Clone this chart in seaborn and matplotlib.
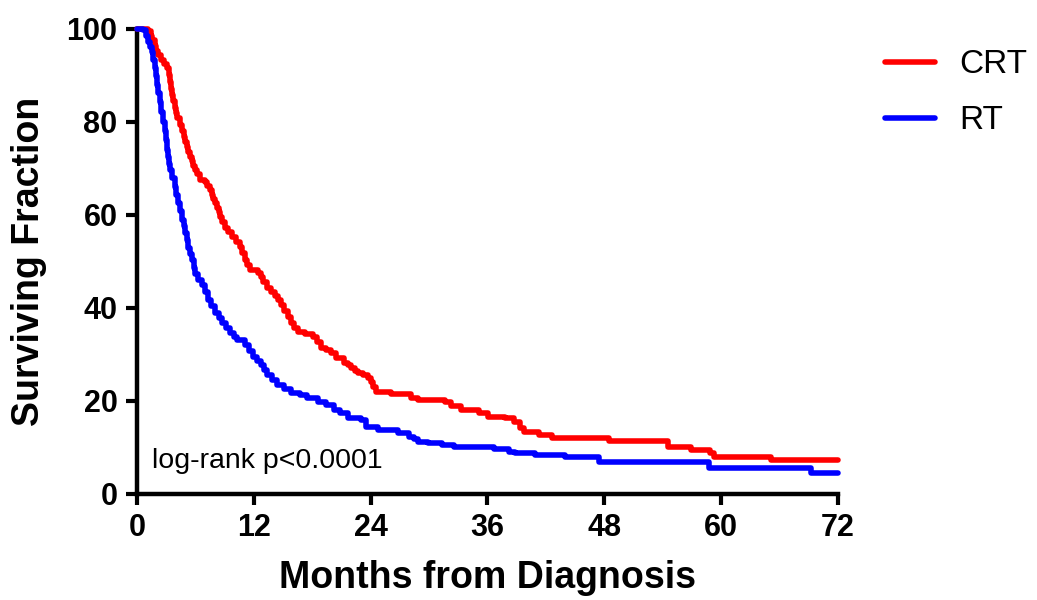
import pandas as pd
import numpy as np
import matplotlib
matplotlib.use("Agg")
import matplotlib.pyplot as plt
import seaborn as sns

# ── Kaplan-Meier step data ───────────────────────────────────────────
crt_months = [0, 1.1, 1.4, 1.6, 1.85, 2.0, 2.2, 2.5, 2.8, 3.1, 3.25, 3.4, 3.5,
              3.6, 3.75, 3.9, 4.0, 4.1, 4.4, 4.6, 4.8, 4.95, 5.15, 5.3, 5.46,
              5.65, 5.8, 5.98, 6.2, 6.5, 7.0, 7.25, 7.5, 7.7, 7.85, 8.0, 8.2,
              8.4, 8.56, 8.75, 9.0, 9.4, 9.8, 10.2, 10.6, 10.8, 11.1, 11.35,
              11.6, 12.4, 12.7, 13.0, 13.4, 13.8, 14.2, 14.5, 14.8, 15.1,
              15.5, 15.8, 16.1, 16.5, 17.3, 18.1, 18.5, 18.9, 19.4, 19.9,
              20.5, 21.3, 21.7, 22.0, 22.4, 22.7, 23.2, 23.7, 24.0, 24.3,
              24.6, 26.1, 28.2, 28.9, 31.6, 32.3, 33.3, 35.1, 36.1, 37.8,
              38.7, 39.3, 39.8, 41.3, 42.6, 48.5, 54.5, 56.9, 58.9, 59.3,
              65.1, 72.0]
crt_surv = [100, 99.5, 98.5, 97.5, 96.2, 95.3, 94.3, 93.3, 92.5, 91.5, 90, 88.5, 87,
            85.8, 84.5, 83, 82, 80.9, 79.4, 78, 76.8, 75.7, 74.5, 73.5, 72.5,
            71.5, 70.6, 69.7, 68.7, 67.5, 67.1, 66.2, 65.4, 64.2, 63.4, 62.6, 61.5,
            60.5, 59.6, 58.5, 57.2, 56.3, 55.3, 54.2, 53.1, 51.8, 50.3, 49.3,
            48.2, 47.5, 46.7, 45.5, 44.3, 43.5, 42.6, 41.6, 40.5, 39.3,
            38.1, 36.8, 35.6, 34.8, 34.3, 33.8, 32.6, 31.4, 31.0, 30.3,
            29.2, 28.2, 27.6, 27.1, 26.5, 26.0, 25.5, 24.9, 24.0, 23.0,
            22.0, 21.5, 20.6, 20.2, 19.8, 18.9, 18.1, 17.4, 16.6, 16.3,
            15.5, 14.2, 13.3, 12.7, 12.0, 11.4, 10.1, 9.5, 8.8, 8.0,
            7.2, 7.2]

rt_months = [0, 0.6, 0.9, 1.13, 1.35, 1.55, 1.7, 1.86, 1.96, 2.06, 2.2, 2.37,
             2.5, 2.68, 2.85, 3.0, 3.1, 3.2, 3.3, 3.4, 3.6, 3.9, 4.05, 4.2,
             4.4, 4.64, 4.8, 4.95, 5.1, 5.26, 5.45, 5.67, 5.85, 6.0, 6.3,
             6.7, 7.0, 7.3, 7.6, 8.0, 8.4, 8.76, 9.2, 9.6, 10.0, 10.3, 11.1,
             11.5, 11.9, 12.3, 12.7, 13.1, 13.4, 13.9, 14.4, 15.1, 15.8,
             16.8, 17.5, 18.6, 19.4, 20.2, 20.9, 21.7, 23.0, 23.5, 24.8,
             26.8, 27.9, 28.5, 28.9, 29.9, 31.3, 32.6, 36.7, 38.2, 38.8,
             40.9, 44.0, 47.5, 58.8, 69.2, 72.0]
rt_surv = [100, 99.8, 98.5, 97.2, 96.1, 95.1, 93.3, 91.6, 89.8, 88.0, 86.1, 84.3,
           82.2, 80.0, 78.0, 76.1, 74.0, 72.5, 71.0, 69.7, 68.0, 66.0, 64.3, 62.6,
           60.8, 58.9, 57.5, 56.1, 54.5, 52.9, 51.6, 50.3, 48.6, 47.2, 46.0,
           44.9, 43.3, 41.7, 40.3, 38.9, 37.8, 36.8, 35.7, 34.6, 33.8, 33.1, 32.0,
           30.8, 29.5, 28.6, 27.7, 26.6, 25.6, 24.5, 23.4, 22.5, 21.7,
           21.3, 20.5, 19.8, 19.0, 18.1, 17.4, 16.3, 15.9, 14.4, 13.8,
           13.1, 12.3, 11.7, 11.2, 11.0, 10.5, 10.1, 9.7, 9.0, 8.8,
           8.4, 8.0, 6.9, 5.6, 4.5, 4.5]

x_ticks = [0, 12, 24, 36, 48, 60, 72]
y_ticks = [0, 20, 40, 60, 80, 100]

df = pd.concat([
    pd.DataFrame({"Months": crt_months, "Surv": crt_surv, "Group": "CRT"}),
    pd.DataFrame({"Months": rt_months, "Surv": rt_surv, "Group": "RT"}),
], ignore_index=True)

# ── Style ────────────────────────────────────────────────────────────
sns.set_theme(style="ticks")
plt.rcParams.update({
    "font.family": ["Liberation Sans", "DejaVu Sans"],
    "text.color": "black",
    "axes.labelcolor": "black",
    "xtick.color": "black",
    "ytick.color": "black",
})

fig = plt.figure(figsize=(10.37, 6.0), dpi=100)
ax = fig.add_axes([0.132, 0.177, 0.676, 0.775])

sns.lineplot(data=df, x="Months", y="Surv", hue="Group",
             palette={"CRT": "#ff0000", "RT": "#0000ff"},
             estimator=None, sort=False, drawstyle="steps-post",
             linewidth=4.0, ax=ax, clip_on=False, zorder=3)

ax.set_xlim(0, 72)
ax.set_ylim(0, 100)
ax.set_xticks(x_ticks)
ax.set_yticks(y_ticks)
ax.tick_params(axis="both", direction="out", length=8, width=3.0,
               labelsize=22, pad=6)
for lab in ax.get_xticklabels() + ax.get_yticklabels():
    lab.set_fontweight("bold")

for side in ["top", "right"]:
    ax.spines[side].set_visible(False)
for side in ["left", "bottom"]:
    ax.spines[side].set_linewidth(3.2)
    ax.spines[side].set_color("black")

ax.set_xlabel("Months from Diagnosis", fontsize=27, fontweight="bold", labelpad=12)
ax.set_ylabel("Surviving Fraction", fontsize=27, fontweight="bold", labelpad=14)

ax.text(1.6, 7.1, "log-rank p<0.0001", fontsize=20.5, va="center", ha="left")

handles, labels = ax.get_legend_handles_labels()
ax.legend(handles, labels, loc="upper left", bbox_to_anchor=(0.853, 0.918),
          bbox_transform=fig.transFigure, frameon=False,
          handlelength=1.5, handletextpad=0.75, labelspacing=0.75,
          borderpad=0, borderaxespad=0, prop={"size": 24})

plt.savefig("out.png", dpi=100)
plt.close()
